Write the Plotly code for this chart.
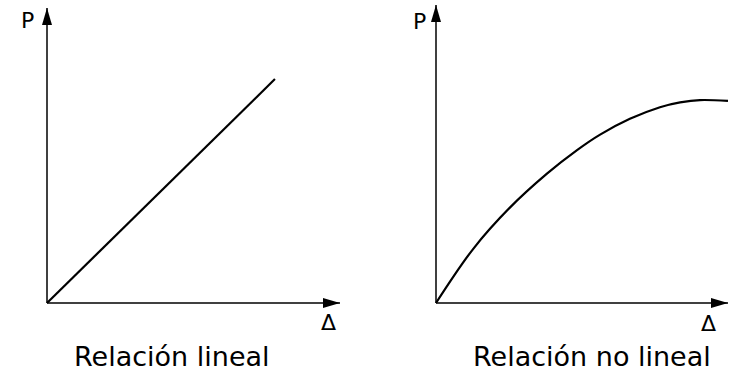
import plotly.graph_objects as go

W, H = 729, 373

# Relación lineal: P grows in proportion to Δ
linear_delta = [0.0, 7.78]
linear_p = [0.0, 7.59]

# Relación no lineal: P at several Δ values
nonlinear_delta = [0.0, 1.27, 2.53, 3.80, 4.83, 5.62, 6.64, 7.67, 8.36, 9.04, 10.0]
nonlinear_p = [0.0, 1.81, 3.20, 4.34, 5.13, 5.65, 6.18, 6.57, 6.73, 6.81, 6.78]

captions = ["Relación lineal", "Relación no lineal"]
axis_labels = ["P", "Δ"]

AXIS_MAX = 10
FONT = "DejaVu Sans"


def domain(p0, p10, lo, hi, size, flip=False):
    """Axis domain so that value 0 sits at pixel p0 and value 10 at pixel p10."""
    if flip:
        p0, p10 = size - p0, size - p10
    s = (p10 - p0) / AXIS_MAX
    return [max(0.0, (p0 + lo * s) / size), min(1.0, (p0 + hi * s) / size)]


fig = go.Figure()
fig.add_trace(
    go.Scatter(
        x=linear_delta, y=linear_p, mode="lines",
        line=dict(color="black", width=2.2), xaxis="x", yaxis="y",
    )
)
fig.add_trace(
    go.Scatter(
        x=nonlinear_delta, y=nonlinear_p, mode="lines", line_shape="spline",
        line=dict(color="black", width=2.2), xaxis="x2", yaxis="y2",
    )
)

hidden = dict(visible=False, showgrid=False, zeroline=False, fixedrange=True)
fig.update_layout(
    width=W,
    height=H,
    margin=dict(l=0, r=0, t=0, b=0),
    paper_bgcolor="white",
    plot_bgcolor="white",
    showlegend=False,
    xaxis=dict(hidden, range=[-1, 10.5], domain=domain(47, 340, -1, 10.5, W)),
    yaxis=dict(hidden, range=[-1, 10.2], domain=domain(303, 8, -1, 10.2, H, flip=True)),
    xaxis2=dict(hidden, range=[-1, 10.03], domain=domain(436, 728, -1, 10.03, W)),
    yaxis2=dict(hidden, range=[-1, 10.1], domain=domain(303, 5, -1, 10.1, H, flip=True)),
)

shapes = []
annotations = []
label_shifts = [
    # (P xshift, P yshift, Δ xshift, Δ yshift)
    (-20, -12, -12, -19),
    (-17, -17, -20, -20),
]
for i, (xr, yr) in enumerate([("x", "y"), ("x2", "y2")]):
    # axis lines
    shapes.append(dict(type="line", xref=xr, yref=yr, x0=0, y0=0, x1=0, y1=AXIS_MAX,
                       line=dict(color="black", width=1.5)))
    shapes.append(dict(type="line", xref=xr, yref=yr, x0=0, y0=0, x1=AXIS_MAX, y1=0,
                       line=dict(color="black", width=1.5)))
    # arrowheads
    shapes.append(dict(type="path", xref=xr, yref=yr, xsizemode="pixel", ysizemode="pixel",
                       xanchor=0, yanchor=AXIS_MAX, path="M0,0 L-5,-17 L5,-17 Z",
                       fillcolor="black", line=dict(width=0)))
    shapes.append(dict(type="path", xref=xr, yref=yr, xsizemode="pixel", ysizemode="pixel",
                       xanchor=AXIS_MAX, yanchor=0, path="M0,0 L-17,5 L-17,-5 Z",
                       fillcolor="black", line=dict(width=0)))
    pxs, pys, dxs, dys = label_shifts[i]
    annotations.append(dict(text=axis_labels[0], xref=xr, yref=yr, x=0, y=AXIS_MAX,
                            xshift=pxs, yshift=pys, showarrow=False,
                            font=dict(family=FONT, size=22, color="black")))
    annotations.append(dict(text=axis_labels[1], xref=xr, yref=yr, x=AXIS_MAX, y=0,
                            xshift=dxs, yshift=dys, showarrow=False,
                            font=dict(family=FONT, size=22, color="black")))

for cx, text in zip([172, 592], captions):
    annotations.append(dict(text=text, xref="paper", yref="paper", x=cx / W, y=1 - 356 / H,
                            xanchor="center", yanchor="middle", showarrow=False,
                            font=dict(family=FONT, size=27, color="black")))

fig.update_layout(shapes=shapes, annotations=annotations)
# the page's default body margin would push the 729x373 figure off the window
fig.write_html(
    "out.html",
    config={"displayModeBar": False},
    post_script="document.body.style.margin = '0'; document.body.style.overflow = 'hidden';",
)
